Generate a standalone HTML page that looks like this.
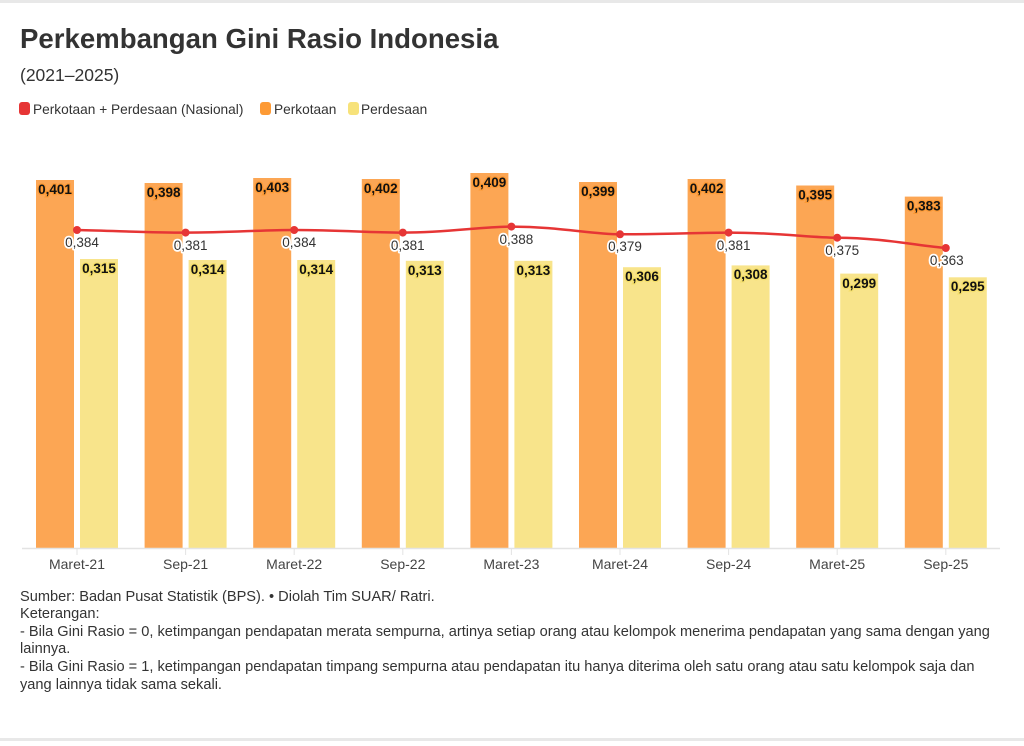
<!DOCTYPE html>
<html><head><meta charset="utf-8"><style>
body{margin:0;background:#fff;width:1024px;height:741px;overflow:hidden;font-family:"Liberation Sans",sans-serif}
</style></head><body>
<svg width="1024" height="741" xmlns="http://www.w3.org/2000/svg" font-family="Liberation Sans, sans-serif">
<rect x="0" y="0" width="1024" height="3" fill="#e8e8e8"/>
<rect x="0" y="738" width="1024" height="3" fill="#e8e8e8"/>
<text x="20" y="48" font-size="27.6" font-weight="bold" fill="#333">Perkembangan Gini Rasio Indonesia</text>
<text x="20" y="81" font-size="17.5" fill="#333">(2021–2025)</text>
<rect x="19" y="102" width="11" height="13" rx="3" fill="#e63535"/>
<text x="33" y="114" font-size="13.7" fill="#333">Perkotaan + Perdesaan (Nasional)</text>
<rect x="260" y="102" width="11" height="13" rx="3" fill="#fd9a35"/>
<text x="274" y="114" font-size="13.7" fill="#333">Perkotaan</text>
<rect x="348" y="102" width="11" height="13" rx="3" fill="#f7e27a"/>
<text x="361" y="114" font-size="13.7" fill="#333">Perdesaan</text>
<g fill="#fca654">
<rect x="36" y="180" width="38" height="368"/>
<rect x="144.6" y="183" width="38" height="365"/>
<rect x="253.2" y="178" width="38" height="370"/>
<rect x="361.8" y="179" width="38" height="369"/>
<rect x="470.4" y="173" width="38" height="375"/>
<rect x="579" y="182" width="38" height="366"/>
<rect x="687.6" y="179" width="38" height="369"/>
<rect x="796.2" y="185.5" width="38" height="362.5"/>
<rect x="904.8" y="196.6" width="38" height="351.4"/>
</g>
<g fill="#f8e48b">
<rect x="80" y="259" width="38" height="289"/>
<rect x="188.6" y="260" width="38" height="288"/>
<rect x="297.2" y="260" width="38" height="288"/>
<rect x="405.8" y="260.8" width="38" height="287.2"/>
<rect x="514.4" y="260.8" width="38" height="287.2"/>
<rect x="623" y="267.2" width="38" height="280.8"/>
<rect x="731.6" y="265.4" width="38" height="282.6"/>
<rect x="840.2" y="273.6" width="38" height="274.4"/>
<rect x="948.8" y="277.3" width="38" height="270.7"/>
</g>
<line x1="22" y1="548.5" x2="1000" y2="548.5" stroke="#e3e3e3" stroke-width="1.5"/>
<g stroke="#e3e3e3"><line x1="77" y1="549" x2="77" y2="555"/><line x1="185.6" y1="549" x2="185.6" y2="555"/><line x1="294.2" y1="549" x2="294.2" y2="555"/><line x1="402.8" y1="549" x2="402.8" y2="555"/><line x1="511.4" y1="549" x2="511.4" y2="555"/><line x1="620" y1="549" x2="620" y2="555"/><line x1="728.6" y1="549" x2="728.6" y2="555"/><line x1="837.2" y1="549" x2="837.2" y2="555"/><line x1="945.8" y1="549" x2="945.8" y2="555"/></g>
<g font-size="14" fill="#444" text-anchor="middle">
<text x="77" y="569">Maret-21</text><text x="185.6" y="569">Sep-21</text><text x="294.2" y="569">Maret-22</text><text x="402.8" y="569">Sep-22</text><text x="511.4" y="569">Maret-23</text><text x="620" y="569">Maret-24</text><text x="728.6" y="569">Sep-24</text><text x="837.2" y="569">Maret-25</text><text x="945.8" y="569">Sep-25</text>
</g>
<g font-size="13.5" font-weight="bold" fill="#111" text-anchor="middle" stroke="#fd9a35" stroke-width="2.5" paint-order="stroke">
<text x="55" y="194">0,401</text><text x="163.6" y="197">0,398</text><text x="272.2" y="192">0,403</text><text x="380.8" y="193">0,402</text><text x="489.4" y="187">0,409</text><text x="598" y="196">0,399</text><text x="706.6" y="193">0,402</text><text x="815.2" y="199.5">0,395</text><text x="923.8" y="210.6">0,383</text>
</g>
<g font-size="13.5" font-weight="bold" fill="#111" text-anchor="middle" stroke="#f5df6a" stroke-width="2.5" paint-order="stroke">
<text x="99" y="273">0,315</text><text x="207.6" y="274">0,314</text><text x="316.2" y="274">0,314</text><text x="424.8" y="275">0,313</text><text x="533.4" y="275">0,313</text><text x="642" y="281">0,306</text><text x="750.6" y="279">0,308</text><text x="859.2" y="288">0,299</text><text x="967.8" y="291">0,295</text>
</g>
<path d="M77,230 C120,231 150,232.6 185.6,232.6 C230,232.6 260,230 294.2,230 C340,230 370,232.6 402.8,232.6 C450,232.6 480,226.6 511.4,226.6 C560,226.6 590,234.3 620,234.3 C670,234.3 700,232.6 728.6,232.6 C780,232.6 810,237.7 837.2,237.7 C880,237.7 920,246 945.8,248" fill="none" stroke="#e63535" stroke-width="2.5"/>
<g fill="#e63535"><circle cx="77" cy="230" r="4"/><circle cx="185.6" cy="232.6" r="4"/><circle cx="294.2" cy="230" r="4"/><circle cx="402.8" cy="232.6" r="4"/><circle cx="511.4" cy="226.6" r="4"/><circle cx="620" cy="234.3" r="4"/><circle cx="728.6" cy="232.6" r="4"/><circle cx="837.2" cy="237.7" r="4"/><circle cx="945.8" cy="248" r="4"/></g>
<g font-size="13.5" fill="#333" text-anchor="middle" stroke="#fff" stroke-width="3.5" paint-order="stroke" stroke-linejoin="round">
<text x="82" y="247">0,384</text><text x="190.6" y="250">0,381</text><text x="299.2" y="247">0,384</text><text x="407.8" y="250">0,381</text><text x="516.4" y="244">0,388</text><text x="625" y="251">0,379</text><text x="733.6" y="250">0,381</text><text x="842.2" y="255">0,375</text><text x="946.8" y="265">0,363</text>
</g>
<g font-size="14.6" fill="#333">
<text x="20" y="601">Sumber: Badan Pusat Statistik (BPS). • Diolah Tim SUAR/ Ratri.</text>
<text x="20" y="618">Keterangan:</text>
<text x="20" y="636">- Bila Gini Rasio = 0, ketimpangan pendapatan merata sempurna, artinya setiap orang atau kelompok menerima pendapatan yang sama dengan yang</text>
<text x="20" y="653">lainnya.</text>
<text x="20" y="671">- Bila Gini Rasio = 1, ketimpangan pendapatan timpang sempurna atau pendapatan itu hanya diterima oleh satu orang atau satu kelompok saja dan</text>
<text x="20" y="689">yang lainnya tidak sama sekali.</text>
</g>
</svg>
</body></html>
